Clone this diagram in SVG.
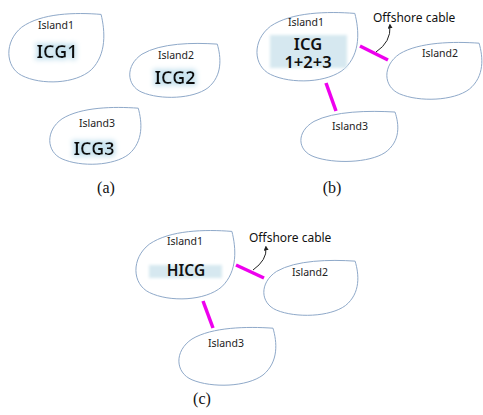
<svg xmlns="http://www.w3.org/2000/svg" xmlns:xlink="http://www.w3.org/1999/xlink" width="483" height="415" viewBox="0 0 483 415">
<style>
.blob{fill:#fff;stroke:#8fa9c9;stroke-width:1;vector-effect:non-scaling-stroke}
.lbl{font-family:"Noto Sans","Open Sans",sans-serif;font-size:10.5px;fill:#222;text-anchor:middle}
.big{font-family:"Noto Sans","Open Sans",sans-serif;font-size:18px;font-weight:600;fill:#111;text-anchor:middle}
.cap{font-family:"Liberation Serif",serif;font-size:16px;fill:#111;text-anchor:middle}
.oc{font-family:"Noto Sans","Open Sans",sans-serif;font-size:12px;fill:#111}
.cable{stroke:#ee00ee;stroke-width:3.5;fill:none}
.arr{stroke:#222;stroke-width:1;fill:none}
</style>
<defs>
<path id="blob" class="blob" d="M96 2C100 25 102 58 86 80C70 100 35 102 15 88C-2 76-3 40 15 20C35 0 70-1 96 2Z"/>
<filter id="glow" x="-30%" y="-50%" width="160%" height="200%">
<feMorphology in="SourceAlpha" operator="dilate" radius="2" result="d"/>
<feGaussianBlur in="d" stdDeviation="2.5" result="b"/>
<feFlood flood-color="#c8e3ef"/>
<feComposite in2="b" operator="in" result="g"/>
<feMerge><feMergeNode in="g"/><feMergeNode in="SourceGraphic"/></feMerge>
</filter>
<filter id="soft" x="-20%" y="-50%" width="140%" height="200%"><feGaussianBlur stdDeviation="1.5"/></filter>
<marker id="ah" viewBox="0 0 6 6" refX="3" refY="3" markerWidth="5" markerHeight="5" orient="auto-start-reverse" markerUnits="userSpaceOnUse">
<path d="M0 0L6 3L0 6Z" fill="#222"/>
</marker>
</defs>

<!-- panel a -->
<g id="a-island1">
<use xlink:href="#blob" transform="translate(7,13) scale(0.98,0.71)"/>
<text class="lbl" x="56" y="29">Island1</text>
<text class="big" x="57" y="58" filter="url(#glow)">ICG1</text>
</g>
<g id="a-island2">
<use xlink:href="#blob" transform="translate(128,43) scale(0.93,0.56)"/>
<text class="lbl" x="176" y="59">Island2</text>
<text class="big" x="175" y="84" filter="url(#glow)">ICG2</text>
</g>
<g id="a-island3">
<use xlink:href="#blob" transform="translate(48,107) scale(0.94,0.59)"/>
<text class="lbl" x="97" y="127">Island3</text>
<text class="big" x="94" y="155" filter="url(#glow)">ICG3</text>
</g>
<text class="cap" x="106" y="193">(a)</text>

<!-- panel b -->
<g id="b-island1">
<use xlink:href="#blob" transform="translate(255,12) scale(1.04,0.71)"/>
<text class="lbl" x="306" y="26">Island1</text>
<rect x="270" y="35" width="77" height="33" fill="#d6e8f0" filter="url(#soft)"/>
<text class="big" x="308" y="50" style="font-size:16.5px"><tspan x="308" y="50">ICG</tspan><tspan x="308" y="68">1+2+3</tspan></text>
</g>
<g id="b-island2">
<use xlink:href="#blob" transform="translate(385,42) scale(0.98,0.59)"/>
<text class="lbl" x="440" y="57">Island2</text>
</g>
<g id="b-island3">
<use xlink:href="#blob" transform="translate(299,111) scale(1.0,0.52)"/>
<text class="lbl" x="350" y="130">Island3</text>
</g>
<text class="oc" x="373" y="22">Offshore cable</text>
<text class="cap" x="332" y="193">(b)</text>

<!-- panel c -->
<g id="c-island1">
<use xlink:href="#blob" transform="translate(134,230) scale(1.02,0.71)"/>
<text class="lbl" x="185" y="245">Island1</text>
<rect x="149" y="265" width="73" height="13" fill="#d6e8f0" filter="url(#soft)"/>
<text class="big" x="186" y="276" style="font-size:15.5px">HICG</text>
</g>
<g id="c-island2">
<use xlink:href="#blob" transform="translate(262,260) scale(0.97,0.57)"/>
<text class="lbl" x="310" y="276">Island2</text>
</g>
<g id="c-island3">
<use xlink:href="#blob" transform="translate(177,327) scale(1.0,0.6)"/>
<text class="lbl" x="226" y="347">Island3</text>
</g>
<text class="oc" x="249" y="242">Offshore cable</text>
<text class="cap" x="202" y="404">(c)</text>

<g id="connectors">
<line class="cable" x1="360" y1="46" x2="388" y2="60"/>
<line class="cable" x1="326" y1="83" x2="336" y2="111"/>
<path class="arr" d="M376 52Q391 42 390 26" marker-end="url(#ah)"/>
<line class="cable" x1="236" y1="265" x2="264" y2="278"/>
<line class="cable" x1="203" y1="301" x2="213" y2="328"/>
<path class="arr" d="M253 270Q267 260 266 248" marker-end="url(#ah)"/>
</g>
</svg>
